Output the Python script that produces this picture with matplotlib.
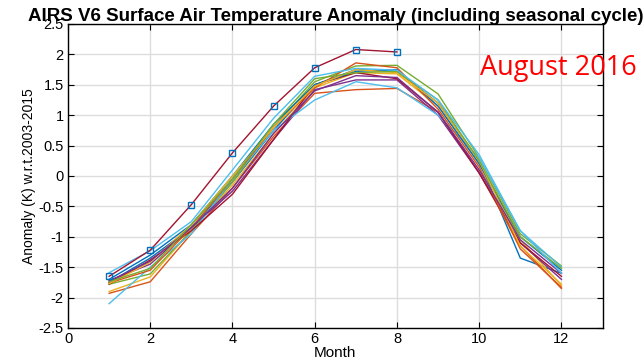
import matplotlib
matplotlib.use("Agg")
import matplotlib.pyplot as plt

# data
months = list(range(1, 13))
years = list(range(2003, 2016))
anom = [
    [-1.75, -1.35, -0.85, -0.10, 0.75, 1.50, 1.75, 1.72, 1.20, 0.25, -1.35, -1.60],
    [-1.93, -1.74, -0.95, -0.20, 0.65, 1.36, 1.42, 1.44, 1.05, 0.05, -1.15, -1.85],
    [-1.90, -1.66, -0.90, -0.15, 0.70, 1.45, 1.70, 1.68, 1.15, 0.20, -1.05, -1.80],
    [-1.72, -1.45, -0.85, -0.25, 0.60, 1.42, 1.58, 1.58, 1.00, 0.05, -1.10, -1.70],
    [-1.78, -1.61, -0.90, -0.10, 0.80, 1.55, 1.81, 1.82, 1.35, 0.30, -0.95, -1.48],
    [-2.10, -1.50, -0.95, -0.05, 0.75, 1.25, 1.55, 1.45, 1.00, 0.30, -0.90, -1.50],
    [-1.78, -1.38, -0.90, -0.30, 0.60, 1.50, 1.70, 1.60, 1.05, 0.05, -1.10, -1.65],
    [-1.70, -1.30, -0.80, 0.00, 0.85, 1.50, 1.72, 1.75, 1.15, 0.20, -1.00, -1.55],
    [-1.76, -1.55, -0.85, -0.05, 0.80, 1.45, 1.86, 1.78, 1.10, 0.15, -1.20, -1.83],
    [-1.77, -1.42, -0.80, 0.00, 0.80, 1.48, 1.75, 1.70, 1.20, 0.25, -1.15, -1.78],
    [-1.73, -1.40, -0.85, -0.20, 0.70, 1.40, 1.65, 1.62, 1.05, 0.10, -1.05, -1.60],
    [-1.74, -1.52, -0.80, -0.05, 0.85, 1.60, 1.70, 1.72, 1.25, 0.25, -1.00, -1.52],
    [-1.59, -1.23, -0.75, 0.10, 0.95, 1.64, 1.77, 1.74, 1.25, 0.35, -0.90, -1.60],
]
months_2016 = list(range(1, 9))
anom_2016 = [-1.65, -1.22, -0.47, 0.38, 1.15, 1.78, 2.08, 2.04]

# matlab default colour order
colors = ["#0072BD", "#D95319", "#EDB120", "#7E2F8E", "#77AC30", "#4DBEEE", "#A2142F"]

plt.rcParams["font.family"] = ["Liberation Sans", "DejaVu Sans"]

fig = plt.figure(figsize=(6.44, 3.58), dpi=100)
ax = fig.add_axes([0.1056, 0.0838, 0.8300, 0.8492])

for i, vals in enumerate(anom):
    ax.plot(months, vals, color=colors[i % 7], lw=1.0)
ax.plot(months_2016, anom_2016, color=colors[len(anom) % 7], lw=1.0,
        marker="s", ms=4, mfc="none", mec="#0072BD", mew=1.0)

ax.set_xlim(0, 13)
ax.set_ylim(-2.5, 2.5)
ax.set_xticks(range(0, 13, 2))
ax.set_yticks([-2.5, -2, -1.5, -1, -0.5, 0, 0.5, 1, 1.5, 2, 2.5])
ax.set_yticklabels(["-2.5", "-2", "-1.5", "-1", "-0.5", "0", "0.5", "1", "1.5", "2", "2.5"])
ax.grid(True, color="#dddddd", lw=1.0)
ax.set_axisbelow(True)
ax.tick_params(direction="in", top=True, right=True, labelsize=10.5, length=4, pad=3)
for s in ax.spines.values():
    s.set_linewidth(1.0)

ax.set_xlabel("Month", fontsize=11, labelpad=0)
ax.set_ylabel("Anomaly (K) w.r.t.2003-2015", fontsize=10, labelpad=2)
ax.set_title("AIRS V6 Surface Air Temperature Anomaly (including seasonal cycle)",
             fontsize=13.5, fontweight="bold", pad=2)

fig.text(0.745, 0.81, "August 2016", color="red", fontsize=19.5,
         family=["Open Sans", "DejaVu Sans"], va="center", ha="left")

fig.savefig("out.png", dpi=100)
